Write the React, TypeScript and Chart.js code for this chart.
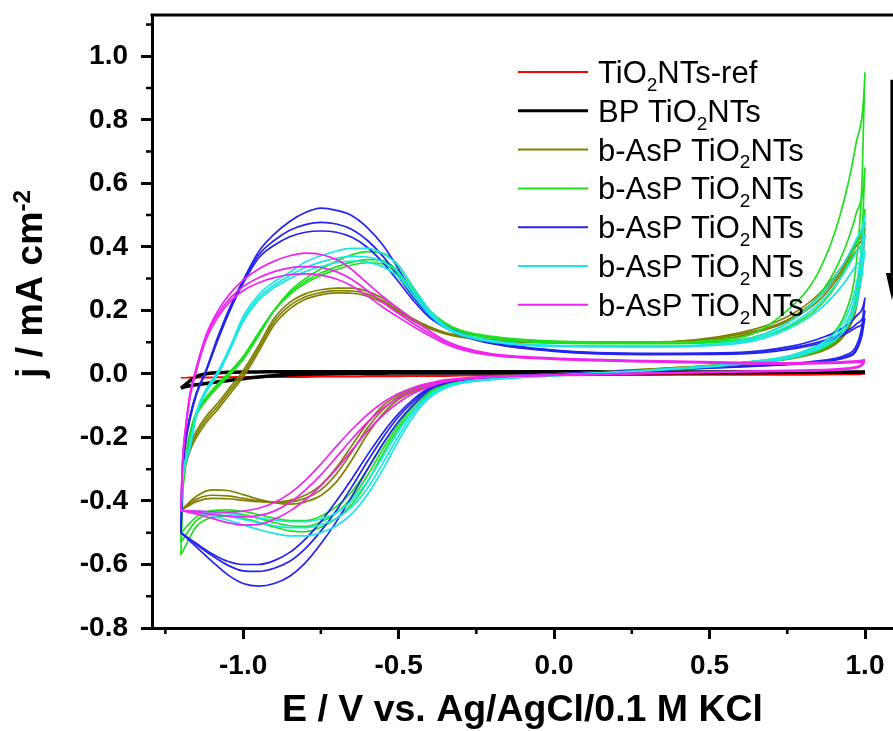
import React, { useEffect, useRef } from 'react';
import { Chart, registerables } from 'chart.js';

Chart.register(...registerables);

// ---------- axes ----------
const X_MIN = -1.293;
const X_MAX = 1.09;
const Y_MIN = -0.8;
const Y_MAX = 1.13;
const X_TICKS = [-1.0, -0.5, 0.0, 0.5, 1.0];
const X_MINOR = [-1.25, -0.75, -0.25, 0.25, 0.75];
const Y_TICKS = [-0.8, -0.6, -0.4, -0.2, 0.0, 0.2, 0.4, 0.6, 0.8, 1.0];
const Y_MINOR = [-0.7, -0.5, -0.3, -0.1, 0.1, 0.3, 0.5, 0.7, 0.9, 1.1];

const X_TITLE = 'E / V vs. Ag/AgCl/0.1 M KCl';
const Y_TITLE = 'j / mA cm';
const Y_TITLE_SUP = '-2';

// ---------- legend ----------
const LABELS = [
  'TiO₂NTs-ref',
  'BP TiO₂NTs',
  'b-AsP TiO₂NTs',
  'b-AsP TiO₂NTs',
  'b-AsP TiO₂NTs',
  'b-AsP TiO₂NTs',
  'b-AsP TiO₂NTs',
];
const COLORS = ['#ff0000', '#000000', '#808000', '#1ee01e', '#2424ee', '#1ae6e6', '#f024f0'];
const WIDTHS = [1.6, 3.5, 1.7, 1.7, 1.7, 1.7, 1.7];

// arrow annotation (data units)
const ARROW_E = 1.0865;
const ARROW_J = [0.926, 0.233];

// ---------- potential grids (V) ----------
const E_FWD = [
  -1.2, -1.195, -1.185, -1.17, -1.15, -1.12, -1.08, -1.04,
  -1.0, -0.95, -0.9, -0.85, -0.8, -0.75, -0.7, -0.65,
  -0.6, -0.55, -0.5, -0.45, -0.4, -0.35, -0.3, -0.2,
  0.0, 0.3, 0.6, 0.75, 0.85, 0.92, 0.97, 1.0,
];
const E_REV = [
  0.99, 0.97, 0.94, 0.9, 0.8, 0.6, 0.3,
  0.0, -0.2, -0.3, -0.35, -0.4, -0.45, -0.5,
  -0.55, -0.6, -0.65, -0.7, -0.75, -0.8, -0.85,
  -0.9, -0.95, -1.0, -1.05, -1.1, -1.15, -1.2,
];

// ---------- current densities (mA cm-2) ----------
const REF_FWD = [
  -0.012, -0.012, -0.012, -0.011, -0.011, -0.011, -0.01, -0.01,
  -0.009, -0.009, -0.008, -0.008, -0.008, -0.007, -0.007, -0.007,
  -0.006, -0.006, -0.006, -0.005, -0.005, -0.005, -0.005, -0.004,
  -0.004, -0.003, -0.002, -0.002, -0.001, -0.001, 0.0, 0.0,
];
const REF_REV = [
  -0.001, -0.002, -0.002, -0.002, -0.003, -0.003, -0.004,
  -0.005, -0.006, -0.006, -0.007, -0.007, -0.007, -0.008,
  -0.008, -0.008, -0.009, -0.009, -0.009, -0.01, -0.01,
  -0.01, -0.011, -0.011, -0.011, -0.012, -0.012, -0.012,
];

const BP_FWD = [
  -0.045, -0.043, -0.04, -0.037, -0.034, -0.03, -0.025, -0.02,
  -0.015, -0.01, -0.006, -0.003, -0.001, 0.0, 0.001, 0.002,
  0.002, 0.002, 0.003, 0.003, 0.003, 0.003, 0.003, 0.003,
  0.004, 0.004, 0.004, 0.005, 0.005, 0.005, 0.006, 0.007,
];
const BP_REV = [
  0.005, 0.005, 0.005, 0.005, 0.005, 0.006, 0.006,
  0.007, 0.007, 0.007, 0.007, 0.007, 0.007, 0.007,
  0.007, 0.007, 0.007, 0.007, 0.007, 0.007, 0.007,
  0.007, 0.006, 0.006, 0.005, 0.003, -0.008, -0.045,
];

const OLIVE_FWD_1 = [
  -0.43, -0.34, -0.27, -0.22, -0.18, -0.135, -0.09, -0.04,
  0.01, 0.09, 0.175, 0.225, 0.252, 0.265, 0.27, 0.27,
  0.26, 0.238, 0.205, 0.172, 0.148, 0.13, 0.12, 0.108,
  0.1, 0.1, 0.13, 0.18, 0.25, 0.33, 0.41, 0.48,
];
const OLIVE_REV_1 = [
  0.36, 0.22, 0.14, 0.1, 0.06, 0.035, 0.015,
  0.0, -0.01, -0.018, -0.026, -0.038, -0.055, -0.08,
  -0.125, -0.19, -0.27, -0.34, -0.383, -0.403, -0.41,
  -0.405, -0.395, -0.38, -0.367, -0.365, -0.385, -0.43,
];
const OLIVE_FWD_2 = [
  -0.43, -0.35, -0.28, -0.23, -0.19, -0.145, -0.1, -0.05,
  0.0, 0.08, 0.165, 0.215, 0.243, 0.256, 0.262, 0.261,
  0.251, 0.23, 0.199, 0.168, 0.145, 0.128, 0.118, 0.106,
  0.099, 0.099, 0.125, 0.17, 0.24, 0.32, 0.4, 0.46,
];
const OLIVE_REV_2 = [
  0.35, 0.21, 0.135, 0.095, 0.058, 0.033, 0.014,
  0.0, -0.01, -0.017, -0.024, -0.035, -0.05, -0.072,
  -0.112, -0.17, -0.245, -0.315, -0.365, -0.392, -0.403,
  -0.405, -0.4, -0.392, -0.384, -0.382, -0.395, -0.43,
];
const OLIVE_FWD_3 = [
  -0.43, -0.36, -0.29, -0.24, -0.2, -0.155, -0.11, -0.06,
  -0.01, 0.07, 0.155, 0.205, 0.235, 0.249, 0.255, 0.254,
  0.245, 0.224, 0.195, 0.165, 0.142, 0.126, 0.116, 0.105,
  0.098, 0.098, 0.12, 0.165, 0.23, 0.31, 0.385, 0.44,
];
const OLIVE_REV_3 = [
  0.33, 0.2, 0.13, 0.09, 0.055, 0.032, 0.013,
  -0.001, -0.01, -0.016, -0.022, -0.032, -0.046, -0.066,
  -0.1, -0.155, -0.225, -0.295, -0.35, -0.382, -0.398,
  -0.403, -0.402, -0.398, -0.393, -0.392, -0.402, -0.43,
];

const GREEN_FWD_1 = [
  -0.57, -0.4, -0.28, -0.19, -0.13, -0.085, -0.04, 0.0,
  0.045, 0.12, 0.2, 0.26, 0.3, 0.33, 0.355, 0.375,
  0.385, 0.38, 0.34, 0.265, 0.2, 0.16, 0.137, 0.118,
  0.103, 0.1, 0.115, 0.2, 0.32, 0.5, 0.72, 0.95,
];
const GREEN_REV_1 = [
  0.6, 0.33, 0.2, 0.13, 0.07, 0.035, 0.012,
  -0.003, -0.012, -0.022, -0.035, -0.06, -0.11, -0.17,
  -0.25, -0.34, -0.41, -0.455, -0.483, -0.497, -0.494,
  -0.482, -0.467, -0.455, -0.448, -0.452, -0.48, -0.57,
];
const GREEN_FWD_2 = [
  -0.53, -0.38, -0.27, -0.185, -0.125, -0.08, -0.035, 0.005,
  0.05, 0.125, 0.2, 0.255, 0.292, 0.318, 0.337, 0.352,
  0.36, 0.356, 0.322, 0.255, 0.195, 0.157, 0.134, 0.115,
  0.1, 0.097, 0.108, 0.16, 0.245, 0.36, 0.5, 0.65,
];
const GREEN_REV_2 = [
  0.42, 0.25, 0.16, 0.11, 0.062, 0.032, 0.01,
  -0.004, -0.012, -0.021, -0.033, -0.056, -0.1, -0.16,
  -0.235, -0.32, -0.39, -0.437, -0.466, -0.48, -0.478,
  -0.468, -0.455, -0.443, -0.437, -0.44, -0.462, -0.53,
];
const GREEN_FWD_3 = [
  -0.5, -0.37, -0.265, -0.18, -0.12, -0.075, -0.03, 0.01,
  0.055, 0.13, 0.2, 0.25, 0.285, 0.31, 0.328, 0.343,
  0.35, 0.346, 0.312, 0.248, 0.19, 0.153, 0.131, 0.112,
  0.098, 0.095, 0.104, 0.145, 0.21, 0.3, 0.41, 0.52,
];
const GREEN_REV_3 = [
  0.36, 0.22, 0.145, 0.1, 0.058, 0.03, 0.009,
  -0.005, -0.012, -0.02, -0.031, -0.052, -0.094, -0.15,
  -0.22, -0.3, -0.37, -0.418, -0.448, -0.462, -0.462,
  -0.454, -0.443, -0.433, -0.428, -0.43, -0.45, -0.5,
];

const BLUE_FWD_1 = [
  -0.5, -0.32, -0.21, -0.13, -0.06, 0.01, 0.12, 0.215,
  0.295, 0.385, 0.44, 0.48, 0.508, 0.522, 0.515, 0.498,
  0.46, 0.405, 0.33, 0.25, 0.19, 0.152, 0.128, 0.1,
  0.075, 0.065, 0.068, 0.085, 0.11, 0.14, 0.18, 0.24,
];
const BLUE_REV_1 = [
  0.15, 0.085, 0.06, 0.048, 0.036, 0.025, 0.012,
  0.0, -0.01, -0.02, -0.03, -0.05, -0.095, -0.15,
  -0.22, -0.3, -0.385, -0.465, -0.535, -0.595, -0.637,
  -0.66, -0.668, -0.66, -0.632, -0.59, -0.545, -0.5,
];
const BLUE_FWD_2 = [
  -0.5, -0.32, -0.21, -0.13, -0.06, 0.008, 0.115, 0.21,
  0.29, 0.375, 0.42, 0.452, 0.47, 0.477, 0.472, 0.455,
  0.42, 0.37, 0.305, 0.238, 0.183, 0.148, 0.125, 0.097,
  0.073, 0.063, 0.065, 0.08, 0.1, 0.125, 0.155, 0.2,
];
const BLUE_REV_2 = [
  0.13, 0.075, 0.055, 0.045, 0.034, 0.023, 0.011,
  -0.001, -0.01, -0.019, -0.028, -0.046, -0.085, -0.135,
  -0.2, -0.275, -0.355, -0.43, -0.495, -0.55, -0.59,
  -0.612, -0.622, -0.62, -0.602, -0.572, -0.537, -0.5,
];
const BLUE_FWD_3 = [
  -0.5, -0.33, -0.22, -0.14, -0.065, 0.005, 0.11, 0.205,
  0.285, 0.365, 0.405, 0.432, 0.446, 0.45, 0.446, 0.43,
  0.398, 0.35, 0.29, 0.228, 0.177, 0.145, 0.122, 0.095,
  0.071, 0.061, 0.063, 0.076, 0.095, 0.118, 0.145, 0.175,
];
const BLUE_REV_3 = [
  0.12, 0.07, 0.052, 0.043, 0.032, 0.022, 0.01,
  -0.002, -0.01, -0.018, -0.026, -0.043, -0.078, -0.125,
  -0.185, -0.255, -0.33, -0.4, -0.465, -0.52, -0.562,
  -0.588, -0.6, -0.6, -0.59, -0.566, -0.534, -0.5,
];

const CYAN_FWD_1 = [
  -0.43, -0.33, -0.27, -0.22, -0.12, -0.05, 0.01, 0.09,
  0.18, 0.25, 0.29, 0.32, 0.352, 0.372, 0.387, 0.395,
  0.395, 0.378, 0.34, 0.27, 0.2, 0.152, 0.127, 0.105,
  0.09, 0.088, 0.105, 0.16, 0.24, 0.33, 0.42, 0.5,
];
const CYAN_REV_1 = [
  0.4, 0.27, 0.18, 0.125, 0.07, 0.035, 0.012,
  -0.005, -0.018, -0.03, -0.045, -0.075, -0.13, -0.21,
  -0.3, -0.38, -0.44, -0.478, -0.5, -0.51, -0.51,
  -0.502, -0.49, -0.475, -0.46, -0.447, -0.437, -0.43,
];
const CYAN_FWD_2 = [
  -0.43, -0.33, -0.27, -0.22, -0.125, -0.055, 0.005, 0.085,
  0.17, 0.24, 0.28, 0.31, 0.335, 0.352, 0.364, 0.37,
  0.368, 0.352, 0.318, 0.255, 0.192, 0.148, 0.124, 0.103,
  0.088, 0.086, 0.1, 0.15, 0.22, 0.3, 0.38, 0.44,
];
const CYAN_REV_2 = [
  0.35, 0.24, 0.16, 0.115, 0.065, 0.033, 0.011,
  -0.005, -0.017, -0.028, -0.042, -0.07, -0.12, -0.195,
  -0.28, -0.36, -0.418, -0.455, -0.475, -0.484, -0.484,
  -0.478, -0.468, -0.458, -0.448, -0.44, -0.434, -0.43,
];
const CYAN_FWD_3 = [
  -0.43, -0.34, -0.28, -0.23, -0.13, -0.06, 0.0, 0.08,
  0.165, 0.232, 0.272, 0.3, 0.322, 0.338, 0.35, 0.355,
  0.352, 0.337, 0.305, 0.245, 0.186, 0.145, 0.122, 0.101,
  0.087, 0.085, 0.097, 0.14, 0.2, 0.27, 0.34, 0.39,
];
const CYAN_REV_3 = [
  0.31, 0.21, 0.145, 0.105, 0.06, 0.031, 0.01,
  -0.006, -0.016, -0.026, -0.04, -0.066, -0.112, -0.18,
  -0.26, -0.338, -0.398, -0.437, -0.457, -0.465, -0.465,
  -0.46, -0.453, -0.446, -0.44, -0.435, -0.432, -0.43,
];

const MAGENTA_FWD_1 = [
  -0.43, -0.28, -0.17, -0.06, 0.02, 0.12, 0.2, 0.255,
  0.295, 0.33, 0.355, 0.372, 0.38, 0.376, 0.36, 0.328,
  0.285, 0.243, 0.205, 0.168, 0.135, 0.105, 0.085, 0.063,
  0.05, 0.042, 0.036, 0.035, 0.036, 0.038, 0.041, 0.045,
];
const MAGENTA_REV_1 = [
  0.03, 0.022, 0.018, 0.015, 0.012, 0.008, 0.003,
  -0.004, -0.01, -0.018, -0.025, -0.04, -0.06, -0.09,
  -0.13, -0.18, -0.24, -0.3, -0.352, -0.397, -0.432,
  -0.458, -0.474, -0.476, -0.468, -0.455, -0.442, -0.43,
];
const MAGENTA_FWD_2 = [
  -0.43, -0.28, -0.17, -0.06, 0.02, 0.115, 0.19, 0.24,
  0.275, 0.303, 0.322, 0.334, 0.338, 0.335, 0.322, 0.297,
  0.262, 0.225, 0.19, 0.157, 0.127, 0.1, 0.081, 0.06,
  0.048, 0.04, 0.034, 0.033, 0.034, 0.036, 0.038, 0.042,
];
const MAGENTA_REV_2 = [
  0.028, 0.02, 0.016, 0.013, 0.01, 0.007, 0.002,
  -0.004, -0.009, -0.016, -0.022, -0.034, -0.05, -0.075,
  -0.108, -0.152, -0.205, -0.262, -0.318, -0.366, -0.405,
  -0.432, -0.446, -0.45, -0.448, -0.442, -0.436, -0.43,
];
const MAGENTA_FWD_3 = [
  -0.43, -0.29, -0.18, -0.07, 0.01, 0.105, 0.18, 0.23,
  0.262, 0.287, 0.303, 0.313, 0.315, 0.311, 0.299, 0.277,
  0.245, 0.21, 0.178, 0.148, 0.12, 0.095, 0.077, 0.058,
  0.046, 0.038, 0.032, 0.031, 0.032, 0.034, 0.036, 0.038,
];
const MAGENTA_REV_3 = [
  0.026, 0.019, 0.015, 0.012, 0.009, 0.006, 0.001,
  -0.004, -0.008, -0.014, -0.019, -0.029, -0.042, -0.062,
  -0.09, -0.128, -0.175, -0.228, -0.284, -0.335, -0.376,
  -0.405, -0.423, -0.432, -0.435, -0.434, -0.432, -0.43,
];

// cycles per series (same order as LABELS)
const SERIES_CYCLES = [
  [[REF_FWD, REF_REV]],
  [[BP_FWD, BP_REV]],
  [[OLIVE_FWD_1, OLIVE_REV_1], [OLIVE_FWD_2, OLIVE_REV_2], [OLIVE_FWD_3, OLIVE_REV_3]],
  [[GREEN_FWD_1, GREEN_REV_1], [GREEN_FWD_2, GREEN_REV_2], [GREEN_FWD_3, GREEN_REV_3]],
  [[BLUE_FWD_1, BLUE_REV_1], [BLUE_FWD_2, BLUE_REV_2], [BLUE_FWD_3, BLUE_REV_3]],
  [[CYAN_FWD_1, CYAN_REV_1], [CYAN_FWD_2, CYAN_REV_2], [CYAN_FWD_3, CYAN_REV_3]],
  [[MAGENTA_FWD_1, MAGENTA_REV_1], [MAGENTA_FWD_2, MAGENTA_REV_2], [MAGENTA_FWD_3, MAGENTA_REV_3]],
];

const FONT = '"Liberation Sans", Arial, Helvetica, sans-serif';

function buildDatasets() {
  const out: any[] = [];
  // later series first so that they are drawn on top; black/red at the back
  for (let s = SERIES_CYCLES.length - 1; s >= 0; s--) {
    SERIES_CYCLES[s].forEach((cyc) => {
      const [fwd, rev] = cyc;
      const pts = E_FWD.map((e, i) => ({ x: e, y: fwd[i] })).concat(
        E_REV.map((e, i) => ({ x: e, y: rev[i] }))
      );
      out.push({
        label: LABELS[s],
        data: pts,
        showLine: true,
        borderColor: COLORS[s],
        backgroundColor: COLORS[s],
        borderWidth: WIDTHS[s],
        pointRadius: 0,
        pointHoverRadius: 0,
        fill: false,
        cubicInterpolationMode: 'monotone',
      });
    });
  }
  return out;
}

function drawSubText(ctx: CanvasRenderingContext2D, text: string, x: number, y: number, size: number) {
  const parts = text.split('₂');
  let cx = x;
  parts.forEach((p, i) => {
    ctx.font = `${size}px ${FONT}`;
    ctx.fillText(p, cx, y);
    cx += ctx.measureText(p).width;
    if (i < parts.length - 1) {
      ctx.font = `${Math.round(size * 0.6)}px ${FONT}`;
      ctx.fillText('2', cx, y + size * 0.25);
      cx += ctx.measureText('2').width;
    }
  });
}

const overlayPlugin = {
  id: 'overlay',
  afterDraw(chart: any) {
    const { ctx, chartArea: a, scales } = chart;
    const xs = scales.x;
    const ys = scales.y;
    ctx.save();
    ctx.strokeStyle = '#000';
    ctx.fillStyle = '#000';
    ctx.lineCap = 'butt';

    // top frame line
    ctx.lineWidth = 3;
    ctx.beginPath();
    ctx.moveTo(a.left - 1.5, a.top);
    ctx.lineTo(a.right, a.top);
    ctx.stroke();

    // minor ticks
    ctx.lineWidth = 2.5;
    ctx.beginPath();
    X_MINOR.forEach((v) => {
      const p = xs.getPixelForValue(v);
      ctx.moveTo(p, a.bottom);
      ctx.lineTo(p, a.bottom + 6);
    });
    Y_MINOR.forEach((v) => {
      const p = ys.getPixelForValue(v);
      ctx.moveTo(a.left, p);
      ctx.lineTo(a.left - 6, p);
    });
    ctx.stroke();

    // arrow
    const ax = xs.getPixelForValue(ARROW_E);
    const ay0 = ys.getPixelForValue(ARROW_J[0]);
    const ay1 = ys.getPixelForValue(ARROW_J[1]);
    ctx.lineWidth = 3;
    ctx.beginPath();
    ctx.moveTo(ax, ay0);
    ctx.lineTo(ax, ay1 - 24);
    ctx.stroke();
    ctx.beginPath();
    ctx.moveTo(ax - 6, ay1 - 27);
    ctx.lineTo(ax + 6, ay1 - 27);
    ctx.lineTo(ax, ay1);
    ctx.closePath();
    ctx.fill();

    // legend
    const lx0 = a.left + 366;
    const lx1 = a.left + 436;
    const tx = a.left + 446;
    ctx.textAlign = 'left';
    ctx.textBaseline = 'alphabetic';
    LABELS.forEach((lab, i) => {
      const yy = a.top + 57 + i * 38.8;
      ctx.strokeStyle = COLORS[i];
      ctx.lineWidth = i === 1 ? 3 : 2;
      ctx.beginPath();
      ctx.moveTo(lx0, yy);
      ctx.lineTo(lx1, yy);
      ctx.stroke();
      ctx.fillStyle = '#000';
      drawSubText(ctx, lab, tx, yy + 11, 31);
    });

    // x title
    ctx.fillStyle = '#000';
    ctx.font = `bold 37px ${FONT}`;
    const wx = ctx.measureText(X_TITLE).width;
    ctx.save();
    ctx.translate((a.left + a.right) / 2, a.bottom + 93);
    ctx.scale(481 / wx, 1);
    ctx.textAlign = 'center';
    ctx.fillText(X_TITLE, 0, 0);
    ctx.restore();

    // y title (rotated, with superscript)
    ctx.save();
    ctx.translate(a.left - 110, a.top + 269);
    ctx.rotate(-Math.PI / 2);
    ctx.font = `bold 37px ${FONT}`;
    const w1 = ctx.measureText(Y_TITLE).width;
    ctx.font = `bold 24px ${FONT}`;
    const w2 = ctx.measureText(Y_TITLE_SUP).width;
    const total = w1 + w2;
    ctx.scale(188 / total, 1);
    ctx.textAlign = 'left';
    ctx.font = `bold 37px ${FONT}`;
    ctx.fillText(Y_TITLE, -total / 2, 0);
    ctx.font = `bold 24px ${FONT}`;
    ctx.fillText(Y_TITLE_SUP, -total / 2 + w1, -12);
    ctx.restore();

    ctx.restore();
  },
};

export default function App() {
  const ref = useRef<HTMLCanvasElement>(null);
  useEffect(() => {
    if (!ref.current) return;
    const tickFont = { family: FONT, size: 28, weight: 'bold' as const };
    const chart = new Chart(ref.current, {
      type: 'scatter',
      data: { datasets: buildDatasets() },
      options: {
        animation: false,
        responsive: false,
        maintainAspectRatio: false,
        layout: { padding: { top: 15, left: 0, right: 0, bottom: 0 } },
        plugins: { legend: { display: false }, tooltip: { enabled: false } },
        events: [],
        scales: {
          x: {
            type: 'linear',
            position: 'bottom',
            min: X_MIN,
            max: X_MAX,
            afterBuildTicks: (s: any) => {
              s.ticks = X_TICKS.map((v) => ({ value: v }));
            },
            afterFit: (s: any) => {
              s.height = 103;
              s.paddingLeft = 0;
              s.paddingRight = 0;
              s.paddingTop = 0;
              s.paddingBottom = 0;
            },
            ticks: {
              callback: (v: any) => Number(v).toFixed(1),
              font: tickFont,
              color: '#000',
              padding: 10,
              maxRotation: 0,
              autoSkip: false,
            },
            grid: {
              drawOnChartArea: false,
              drawTicks: true,
              tickLength: 11,
              tickWidth: 3,
              tickColor: '#000',
              color: '#000',
            },
            border: { display: true, color: '#000', width: 3 },
          },
          y: {
            type: 'linear',
            position: 'left',
            min: Y_MIN,
            max: Y_MAX,
            afterBuildTicks: (s: any) => {
              s.ticks = Y_TICKS.map((v) => ({ value: v }));
            },
            afterFit: (s: any) => {
              s.width = 152;
              s.paddingLeft = 0;
              s.paddingRight = 0;
              s.paddingTop = 0;
              s.paddingBottom = 0;
            },
            ticks: {
              callback: (v: any) => Number(v).toFixed(1),
              font: tickFont,
              color: '#000',
              padding: 13,
              autoSkip: false,
            },
            grid: {
              drawOnChartArea: false,
              drawTicks: true,
              tickLength: 11,
              tickWidth: 3,
              tickColor: '#000',
              color: '#000',
            },
            border: { display: true, color: '#000', width: 3 },
          },
        },
      },
      plugins: [overlayPlugin],
    } as any);
    return () => chart.destroy();
  }, []);

  return (
    <div
      style={{
        position: 'fixed',
        left: 0,
        top: 0,
        width: 893,
        height: 731,
        background: '#fff',
        overflow: 'hidden',
      }}
    >
      <canvas ref={ref} width={893} height={731} style={{ display: 'block', width: 893, height: 731 }} />
    </div>
  );
}
